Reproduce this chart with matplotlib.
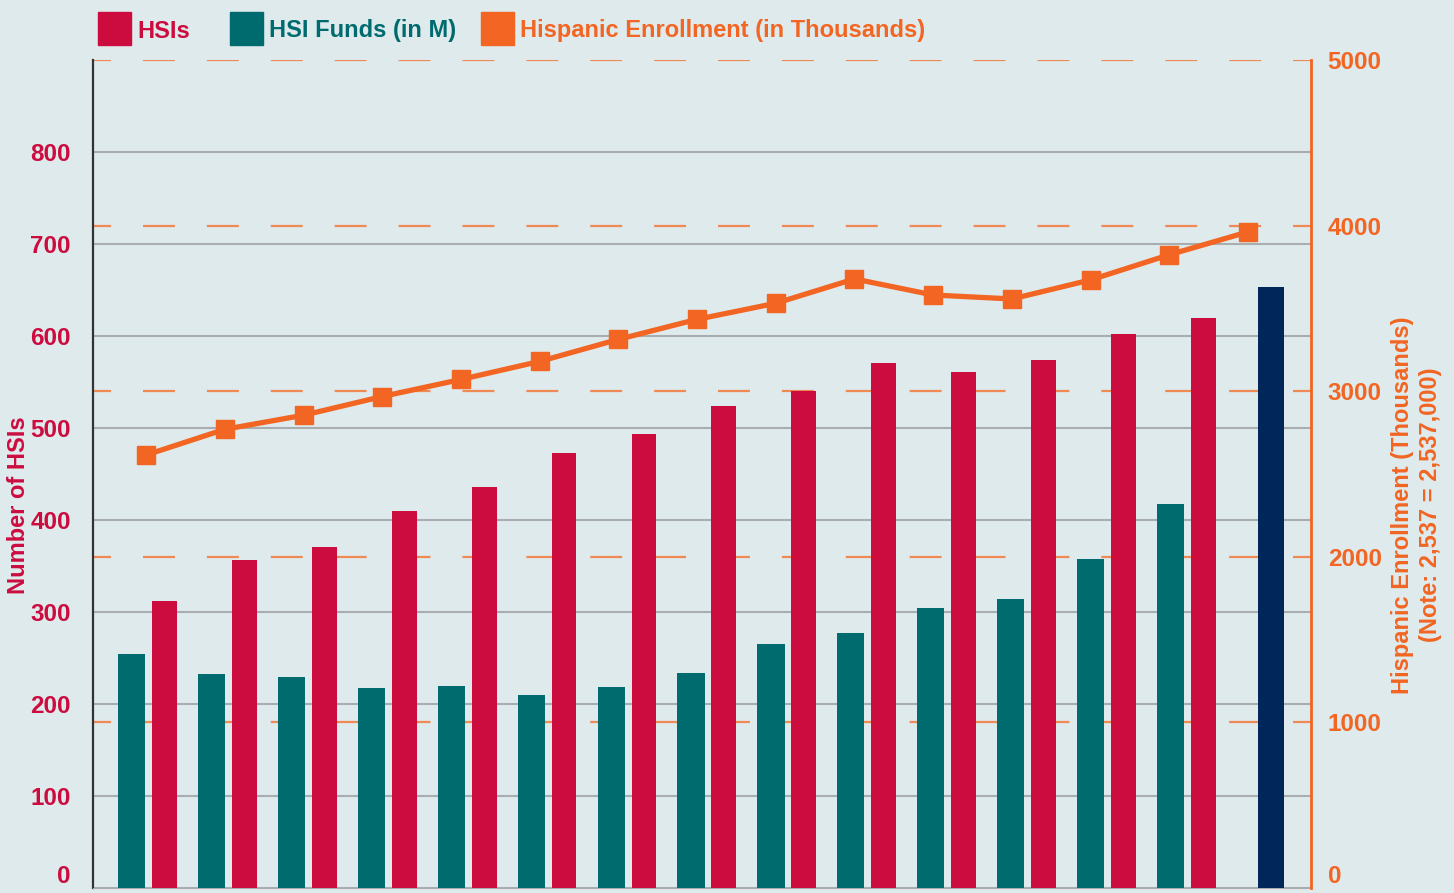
import matplotlib
matplotlib.use('Agg')
import matplotlib.pyplot as plt
from matplotlib.patches import Rectangle
import numpy as np

# valores
hsi_funds = [254, 233, 229, 217, 220, 210, 218, 234, 265, 277, 304, 314, 358, 417]
hsi_count = [312, 357, 371, 410, 436, 473, 493, 524, 540, 571, 561, 574, 602, 620]
hsi_last = 653
enrollment = [2615, 2770, 2855, 2968, 3071, 3180, 3313, 3434, 3531, 3678,
              3581, 3557, 3672, 3824, 3962]

left_ticks = [0, 100, 200, 300, 400, 500, 600, 700, 800]
right_ticks = [0, 1000, 2000, 3000, 4000, 5000]

RED = '#cc0c3f'
TEAL = '#006b6e'
NAVY = '#00265a'
ORANGE = '#f26522'
BG = '#dfeaec'

plt.rcParams['font.family'] = ['Liberation Sans', 'DejaVu Sans']
plt.rcParams['font.weight'] = 'bold'
plt.rcParams['lines.scale_dashes'] = False

fig = plt.figure(figsize=(14.54, 8.93), dpi=100, facecolor=BG)
ax = fig.add_axes([0.064, 0.0056, 0.8377, 0.9272])
ax.set_facecolor(BG)

n = len(hsi_count)
x = np.arange(n)
ax.bar(x - 0.21, hsi_funds, width=0.34, color=TEAL, zorder=3)
ax.bar(x + 0.2, hsi_count, width=0.31, color=RED, zorder=3)
ax.bar(n + 0.05, hsi_last, width=0.33, color=NAVY, zorder=3)

ax.set_xlim(-0.695, 14.55)
ax.set_ylim(0, 900)
ax.set_xticks([])
ax.set_yticks(left_ticks)
ax.tick_params(axis='y', length=0, pad=16, labelsize=17.5, labelcolor=RED)
# o "0" da esquerda fica acima da linha
ax.get_yticklabels()[0].set_va('bottom')

# grade cinza (eixo esquerdo) e tracejada laranja (eixo direito)
for v in left_ticks:
    ax.axhline(v, color='#a9adb0', lw=1.5, zorder=1)
ratio = 900 / 5000
for v in right_ticks[1:]:
    ax.axhline(v * ratio, color='#f08a55', lw=1.6, linestyle=(10, (23, 23)), zorder=1)

for s in ['top', 'right']:
    ax.spines[s].set_visible(False)
ax.spines['left'].set_color('#333333')
ax.spines['left'].set_linewidth(1.6)
ax.spines['bottom'].set_color('#a9adb0')

ax.set_ylabel('Number of HSIs', color=RED, fontsize=17, fontweight='bold')
ax.yaxis.set_label_coords(-0.052, 0.4626)

ax2 = ax.twinx()
line_x = np.arange(len(enrollment)) * 0.985 - 0.03
ax2.plot(line_x, enrollment, color=ORANGE, lw=3.8, marker='s', markersize=13, zorder=5)
ax2.set_ylim(0, 5000)
ax2.set_yticks(right_ticks)
ax2.tick_params(axis='y', length=0, pad=12, labelsize=17.5, labelcolor=ORANGE)
# o "0" da direita também fica acima, para não ser cortado
ax2.get_yticklabels()[0].set_va('bottom')
for s in ['top', 'left', 'bottom']:
    ax2.spines[s].set_visible(False)
ax2.spines['right'].set_color(ORANGE)
ax2.spines['right'].set_linewidth(2)
ax2.set_ylabel('Hispanic Enrollment (Thousands)\n(Note: 2,537 = 2,537,000)',
               color=ORANGE, fontsize=17, fontweight='bold', linespacing=1.25)
ax2.yaxis.set_label_coords(1.066, 0.4626)

# legenda no topo
legend_items = [('HSIs', RED, 98), ('HSI Funds (in M)', TEAL, 230),
                ('Hispanic Enrollment (in Thousands)', ORANGE, 481)]
W, H = 1454, 893
for label, color, px in legend_items:
    fig.patches.append(Rectangle((px / W, 1 - 45 / H), 33 / W, 33 / H,
                                 transform=fig.transFigure, color=color))
    fig.text((px + 39) / W, 1 - 31 / H, label, color=color, fontsize=17,
             fontweight='bold', va='center', ha='left')

plt.savefig('out.png', dpi=100, facecolor=BG)
